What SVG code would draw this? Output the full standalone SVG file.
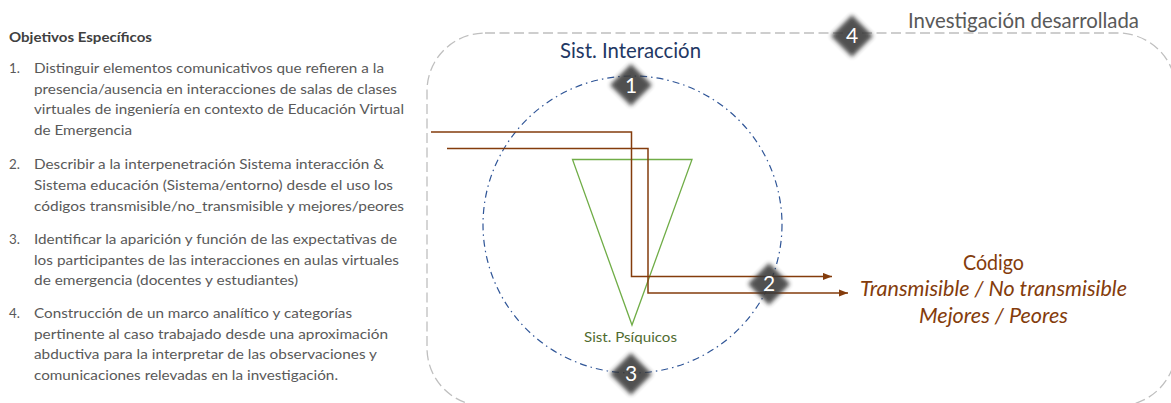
<svg xmlns="http://www.w3.org/2000/svg" width="1171" height="403" viewBox="0 0 1171 403">
<style>
text{font-family:"Lato","Open Sans","Liberation Sans",sans-serif}
.b{font-size:13.4px;fill:#595959}
.t{font-size:20.5px}
.n{font-size:21px;fill:#fff;text-anchor:middle}
.c{font-size:20.5px;fill:#843c0c}
.w{fill:none;stroke:#843c0c;stroke-width:1.5;marker-end:url(#a)}
.d{fill:#383838;opacity:.88;filter:url(#s)}
</style>
<defs>
<marker id="a" markerUnits="userSpaceOnUse" markerWidth="9" markerHeight="8" refX="9" refY="4" orient="auto"><path d="M0 .4L9 4L0 7.6Z" fill="#843c0c"/></marker>
<filter id="s" x="-25%" y="-25%" width="150%" height="150%"><feGaussianBlur stdDeviation="2.2"/></filter>
</defs>
<rect width="1171" height="403" fill="#fff"/>
<g id="objetivos">
<text x="9" y="42" class="b" font-weight="700" style="fill:#404040;font-size:12.5px" textLength="143" lengthAdjust="spacingAndGlyphs">Objetivos Específicos</text>
<text x="9" y="73" class="b">1.</text>
<text x="34" y="73" class="b" textLength="350" lengthAdjust="spacingAndGlyphs">Distinguir elementos comunicativos que refieren a la</text>
<text x="34" y="94" class="b" textLength="363" lengthAdjust="spacingAndGlyphs">presencia/ausencia en interacciones de salas de clases</text>
<text x="34" y="114" class="b" textLength="370" lengthAdjust="spacingAndGlyphs">virtuales de ingeniería en contexto de Educación Virtual</text>
<text x="34" y="135" class="b" textLength="98" lengthAdjust="spacingAndGlyphs">de Emergencia</text>
<text x="9" y="169" class="b">2.</text>
<text x="34" y="169" class="b" textLength="350" lengthAdjust="spacingAndGlyphs">Describir a la interpenetración Sistema interacción &amp;</text>
<text x="34" y="190" class="b" textLength="359" lengthAdjust="spacingAndGlyphs">Sistema educación (Sistema/entorno) desde el uso los</text>
<text x="34" y="211" class="b" textLength="370" lengthAdjust="spacingAndGlyphs">códigos transmisible/no_transmisible y mejores/peores</text>
<text x="9" y="244" class="b">3.</text>
<text x="34" y="244" class="b" textLength="363" lengthAdjust="spacingAndGlyphs">Identificar la aparición y función de las expectativas de</text>
<text x="34" y="265" class="b" textLength="365" lengthAdjust="spacingAndGlyphs">los participantes de las interacciones en aulas virtuales</text>
<text x="34" y="285" class="b" textLength="264" lengthAdjust="spacingAndGlyphs">de emergencia (docentes y estudiantes)</text>
<text x="9" y="318" class="b">4.</text>
<text x="34" y="318" class="b" textLength="318" lengthAdjust="spacingAndGlyphs">Construcción de un marco analítico y categorías</text>
<text x="34" y="339" class="b" textLength="354" lengthAdjust="spacingAndGlyphs">pertinente al caso trabajado desde una aproximación</text>
<text x="34" y="359" class="b" textLength="343" lengthAdjust="spacingAndGlyphs">abductiva para la interpretar de las observaciones y</text>
<text x="34" y="380" class="b" textLength="304" lengthAdjust="spacingAndGlyphs">comunicaciones relevadas en la investigación.</text>
</g>
<g id="investigacion">
<rect x="427" y="33" width="749" height="373" rx="58" ry="58" fill="none" stroke="#bfbfbf" stroke-width="1.3" stroke-dasharray="10 4.5"/>
<text x="908" y="28" class="t" fill="#595959" textLength="231" lengthAdjust="spacingAndGlyphs">Investigación desarrollada</text>
</g>
<g id="interaccion">
<ellipse cx="632.5" cy="224.5" rx="149.5" ry="148.5" fill="none" stroke="#2f5597" stroke-width="1.2" stroke-dasharray="7 4 1.5 4"/>
<text x="560" y="58" class="t" fill="#1f3864" textLength="141" lengthAdjust="spacingAndGlyphs">Sist. Interacción</text>
</g>
<g id="psiquicos">
<path d="M572.5 159.500H692L632 325Z" fill="none" stroke="#70ad47" stroke-width="1.3"/>
<text x="584" y="342" font-size="14" fill="#4f6b2f" textLength="93" lengthAdjust="spacingAndGlyphs">Sist. Psíquicos</text>
</g>
<g id="codigo">
<text x="963" y="270" class="c" textLength="61" lengthAdjust="spacingAndGlyphs">Código</text>
<text x="860" y="296" class="c" font-style="italic" textLength="267" lengthAdjust="spacingAndGlyphs">Transmisible / No transmisible</text>
<text x="919" y="323" class="c" font-style="italic" textLength="149" lengthAdjust="spacingAndGlyphs">Mejores / Peores</text>
</g>
<g id="connectors">
<path class="w" d="M431 132H631.500V276.500H832"/>
<path class="w" d="M447 148.500H648V293H848"/>
</g>
<g id="n1"><path class="d" d="M631 64L652 85L631 106L610 85Z"/><text x="631" y="93" class="n">1</text></g>
<g id="n2"><path class="d" d="M769 263L790 284L769 305L748 284Z"/><text x="769" y="291" class="n">2</text></g>
<g id="n3"><path class="d" d="M631 353L652 374L631 395L610 374Z"/><text x="631" y="381" class="n">3</text></g>
<g id="n4"><path class="d" d="M852 15L873 36L852 57L831 36Z"/><text x="852" y="43" class="n">4</text></g>
</svg>
